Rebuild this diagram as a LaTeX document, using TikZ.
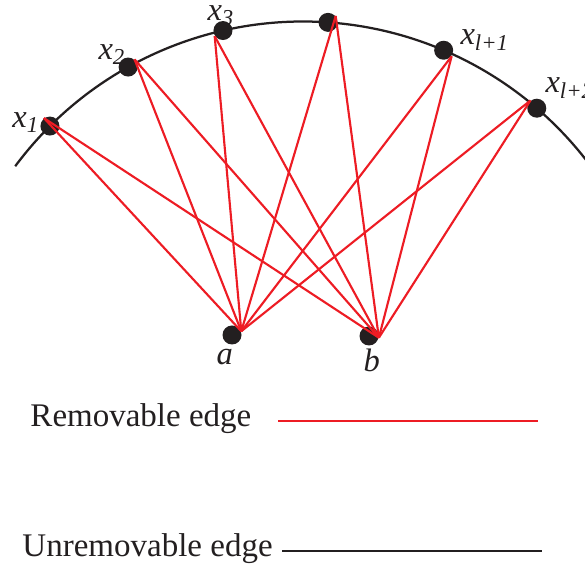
\documentclass[tikz,border=0pt]{standalone}
\usepackage{fontspec}
\setmainfont{Liberation Serif}
\usetikzlibrary{positioning,calc}
\definecolor{redge}{HTML}{ED1C24}
\definecolor{ink}{HTML}{231F20}
\tikzset{
  dot/.style={circle,fill=ink,inner sep=0pt,minimum size=7.6pt},
  vlab/.style={font=\fontsize{13}{15}\selectfont\itshape,inner sep=0pt,anchor=base west,text=ink},
  legtxt/.style={font=\fontsize{13.2}{15}\selectfont,inner sep=0pt,anchor=base west,text=ink},
  rem/.style={draw=redge,line width=0.85pt},
  unrem/.style={draw=ink,line width=0.9pt},
}

\begin{document}
\begin{tikzpicture}[x=0.4pt,y=-0.4pt]
\useasboundingbox (0,0) rectangle (585,570);
\clip (0,0) rectangle (585,570);
\coordinate (ctr) at (303,380);
% boundary of the cycle
\draw[unrem] ($(ctr)+(143.4:143.4pt)$) arc[start angle=143.4,end angle=34,radius=143.4pt];
% vertices on the cycle
\node[dot] (x1) at ($(ctr)+(134.9:143.4pt)$) {};
\node[dot] (x2) at ($(ctr)+(119.2:143.4pt)$) {};
\node[dot] (x3) at ($(ctr)+(102.9:143.4pt)$) {};
\node[dot] (x4) at ($(ctr)+(86.0:143.4pt)$) {};
\node[dot] (xl1) at ($(ctr)+(66.9:143.4pt)$) {};
\node[dot] (xl2) at ($(ctr)+(49.3:143.4pt)$) {};
\node[dot] (a) at (232,335) {};
\node[dot] (b) at (369,336) {};
\node[vlab] (lx1) at (12,128) {x\textsubscript{1}};
\node[vlab] (lx2) at (98,60) {x\textsubscript{2}};
\node[vlab] (lx3) at (207,21) {x\textsubscript{3}};
\node[vlab] (lxl1) at (460,45) {x\textsubscript{l+1}};
\node[vlab] (lxl2) at (545,93) {x\textsubscript{l+2}};
\node[vlab] (la) at (216,365) {a};
\node[vlab] (lb) at (363,372) {b};
% removable edges
\draw[rem] (x1.127) -- (a.22);
\draw[rem] (x1.127) -- (b.-10);
\draw[rem] (x2.50) -- (a.22);
\draw[rem] (x2.50) -- (b.-10);
\draw[rem] (x3.214) -- (a.22);
\draw[rem] (x3.214) -- (b.-10);
\draw[rem] (x4.40) -- (a.22);
\draw[rem] (x4.40) -- (b.-10);
\draw[rem] (xl1.-37) -- (a.22);
\draw[rem] (xl1.-37) -- (b.-10);
\draw[rem] (xl2.129) -- (a.22);
\draw[rem] (xl2.129) -- (b.-10);
% legend
\node[legtxt] (trem) at (30,427) {Removable edge};
\node[legtxt] (tunrem) at (22,557) {Unremovable edge};
\coordinate (r0) at (278,421);
\coordinate (r1) at (538,421);
\coordinate (u0) at (282,551);
\coordinate (u1) at (542,551);
\draw[rem] (r0) -- (r1);
\draw[unrem] (u0) -- (u1);
\end{tikzpicture}
\end{document}
